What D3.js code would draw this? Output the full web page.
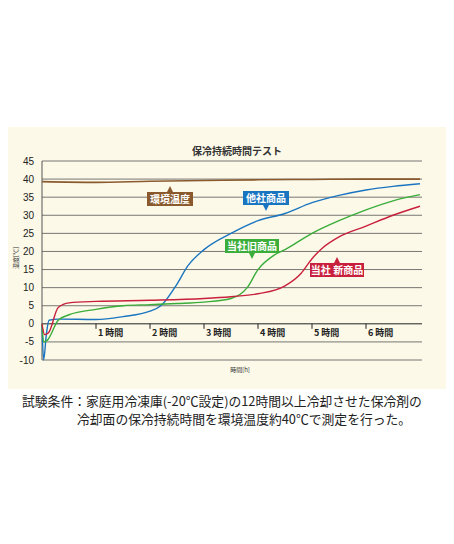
<!DOCTYPE html>
<html><head><meta charset="utf-8">
<script src="https://cdn.jsdelivr.net/npm/d3@7"></script>
<style>body{margin:0;background:#fff;font-family:"Noto Sans CJK JP",sans-serif;}</style>
</head><body><div id="chart"></div>
<script>
// data (hours, °C)
var yTicks = [-10,-5,0,5,10,15,20,25,30,35,40,45];
var hourTicks = [1,2,3,4,5,6];
var ambient = [[0,39.3],[1,39.1],[2,39.4],[3,39.6],[4,39.8],[5,39.9],[6,40],[7,40]];
var other = [[0,0],[0.03,-10],[0.08,-3],[0.13,1],[0.3,1.3],[1,1.2],[1.5,2],[2,3.5],[2.2,5],[2.5,11],[2.7,16],[3,20.5],[3.5,25],[4,28.5],[4.5,30.5],[5,33.5],[5.5,35.5],[6,37],[6.5,38],[7,38.7]];
var oldProd = [[0,0],[0.03,-5],[0.1,-4.5],[0.3,1],[0.5,2.5],[1,4],[1.5,5],[2,5.3],[2.5,5.6],[3,6],[3.5,7],[3.8,10],[4,15],[4.3,19],[4.5,20.5],[5,25],[5.5,28.5],[6,31.5],[6.5,34],[7,35.7]];
var newProd = [[0,0],[0.05,-3],[0.12,-2.5],[0.3,4.5],[0.5,5.8],[1,6.2],[2,6.5],[3,7],[3.5,7.5],[4,8.3],[4.5,10.5],[4.8,14],[5,18],[5.2,21],[5.5,24],[6,27],[6.5,30],[7,32.5]];

var svg = d3.select("#chart").append("svg").attr("width",454).attr("height",544);
svg.append("rect").attr("x",8).attr("y",127).attr("width",438).attr("height",262).attr("fill","#fcf9e8");

var x = d3.scaleLinear().domain([0,7]).range([42,420]);
var y = d3.scaleLinear().domain([-10,45]).range([360,161]);

svg.append("text").attr("x",237).attr("y",155).attr("text-anchor","middle")
  .attr("font-size","10px").attr("font-weight","bold").attr("fill","#333").text("保冷持続時間テスト");

// grid
svg.selectAll(".grid").data(yTicks).enter().append("line")
  .attr("x1",42).attr("x2",422).attr("y1",d=>y(d)).attr("y2",d=>y(d))
  .attr("stroke",d=>d===0?"#222":"#555").attr("stroke-width",d=>d===0?1:0.8);
svg.append("line").attr("x1",42).attr("x2",42).attr("y1",y(45)).attr("y2",y(-10)).attr("stroke","#555");
svg.selectAll(".yl").data(yTicks).enter().append("text")
  .attr("x",34).attr("y",d=>y(d)+3.5).attr("text-anchor","end").attr("font-size","10px")
  .attr("font-family","Liberation Sans, Arial").attr("fill","#222").text(d=>d);
svg.selectAll(".ht").data(hourTicks).enter().append("line")
  .attr("x1",d=>x(d)).attr("x2",d=>x(d)).attr("y1",y(0)).attr("y2",y(0)+5).attr("stroke","#222");
svg.selectAll(".hl").data(hourTicks).enter().append("text")
  .attr("x",d=>x(d)+2).attr("y",y(0)+12).attr("font-size","9px").attr("font-weight","bold").attr("fill","#222")
  .text(d=>d+" 時間");

svg.append("text").attr("x",240).attr("y",372).attr("text-anchor","middle").attr("font-size","6px").attr("fill","#333").text("時間[h]");
svg.append("text").attr("transform","translate(18,258) rotate(-90)").attr("text-anchor","middle")
  .attr("font-size","6px").attr("fill","#333").text("温度[℃]");

var line = d3.line().x(d=>x(d[0])).y(d=>y(d[1])).curve(d3.curveMonotoneX);
[[ambient,"#8a5a2e",1.6],[other,"#1a75c0",1.4],[oldProd,"#3aad3a",1.4],[newProd,"#c8203c",1.4]].forEach(function(s){
  svg.append("path").datum(s[0]).attr("d",line).attr("fill","none").attr("stroke",s[1]).attr("stroke-width",s[2]);
});

// callouts
function callout(cx,cy,w,txt,col,up){
  var g = svg.append("g");
  var h = 14;
  g.append("rect").attr("x",cx-w/2).attr("y",cy-h/2).attr("width",w).attr("height",h).attr("fill",col);
  var py = up ? cy-h/2 : cy+h/2, dy = up ? -6 : 6;
  g.append("path").attr("d","M"+(cx-3)+","+py+"L"+cx+","+(py+dy)+"L"+(cx+3)+","+py+"Z").attr("fill",col);
  g.append("text").attr("x",cx).attr("y",cy+3.5).attr("text-anchor","middle").attr("font-size","10px")
    .attr("font-weight","bold").attr("fill","#fff").text(txt);
}
callout(170,199,46,"環境温度","#8a5a2e",true);
callout(266,198,46,"他社商品","#1a75c0",false);
callout(252,246,54,"当社旧商品","#3aad3a",false);
callout(337,270,54,"当社 新商品","#c8203c",true);

svg.append("text").attr("x",22).attr("y",406).attr("font-size","12.8px").attr("fill","#222")
  .text("試験条件：家庭用冷凍庫(-20℃設定)の12時間以上冷却させた保冷剤の");
svg.append("text").attr("x",77).attr("y",424).attr("font-size","12.8px").attr("fill","#222")
  .text("冷却面の保冷持続時間を環境温度約40℃で測定を行った。");
</script></body></html>
